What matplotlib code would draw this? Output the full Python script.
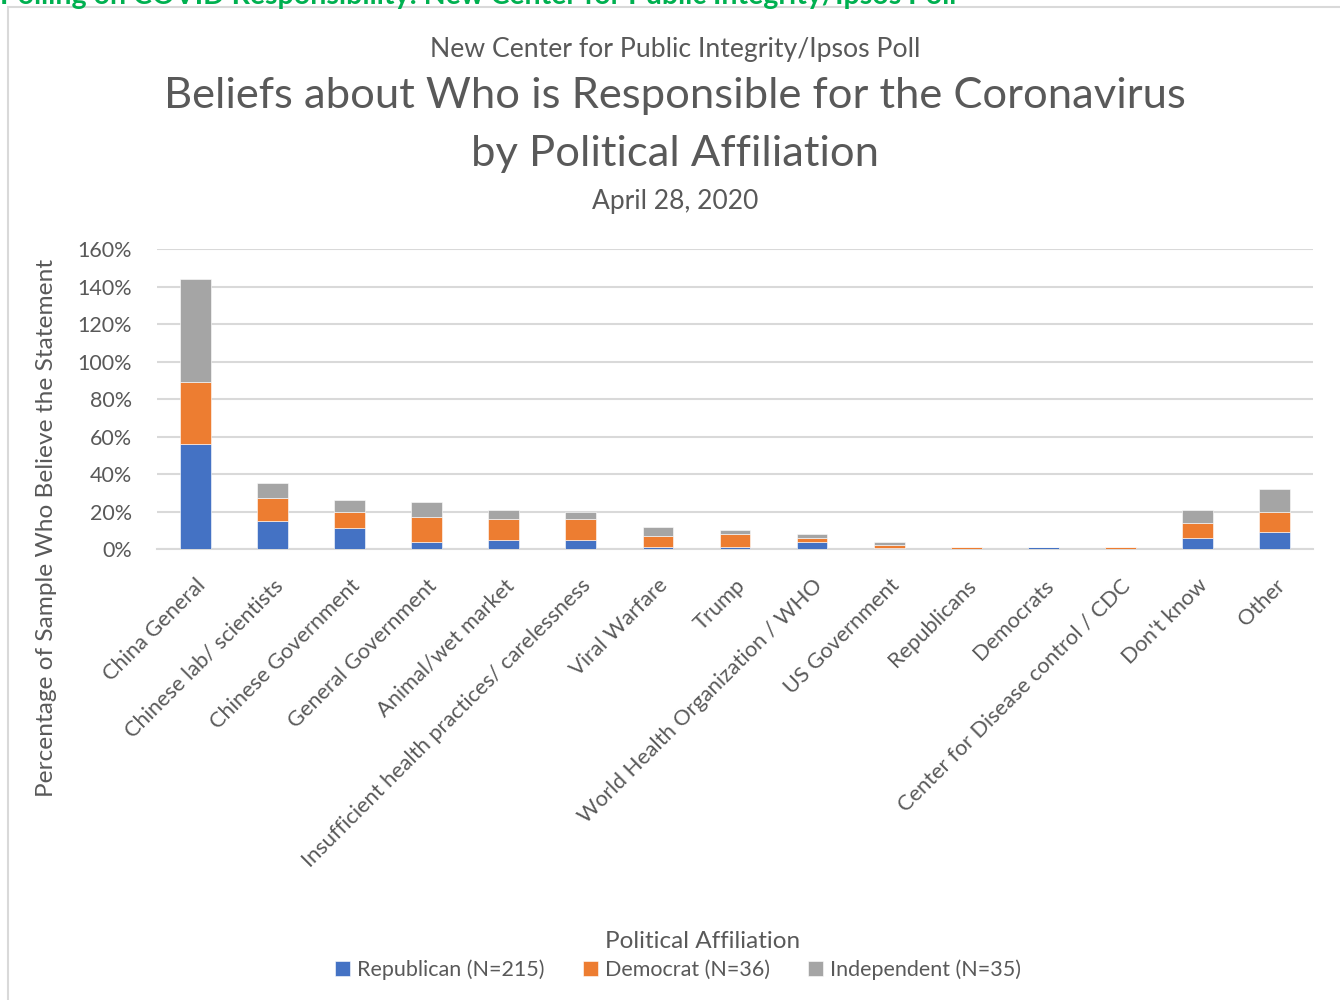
import numpy as np
import matplotlib.pyplot as plt
from matplotlib.patches import Rectangle
from matplotlib.ticker import PercentFormatter

plt.rcParams["font.family"] = ["Lato", "DejaVu Sans"]

categories = [
    "China General", "Chinese lab/ scientists", "Chinese Government",
    "General Government", "Animal/wet market",
    "Insufficient health practices/ carelessness", "Viral Warfare", "Trump",
    "World Health Organization / WHO", "US Government", "Republicans",
    "Democrats", "Center for Disease control / CDC", "Don't know", "Other",
]
republican = [56, 15, 11, 4, 5, 5, 1, 1, 4, 0.5, 0, 1, 0, 6, 9]
democrat = [33, 12, 9, 13, 11, 11, 6, 7, 2, 1.5, 1, 0, 1, 8, 11]
independent = [55, 8, 6, 8, 5, 4, 5, 2, 2, 2, 0, 0, 0, 7, 12]
series_names = ["Republican (N=215)", "Democrat (N=36)", "Independent (N=35)"]
colors = ["#4472c4", "#ed7d31", "#a5a5a5"]
text_color = "#595959"

fig = plt.figure(figsize=(13.4, 10), dpi=100)
ax = fig.add_axes([157 / 1340, 1 - 549 / 1000, (1313 - 157) / 1340, 300 / 1000])

x = np.arange(len(categories))
bottom = np.zeros(len(categories))
for vals, name, c in zip([republican, democrat, independent], series_names, colors):
    vals = np.array(vals, dtype=float)
    ax.bar(x, vals, 0.4, bottom=bottom, color=c, label=name,
           edgecolor="white", linewidth=0.4, zorder=3)
    bottom += vals

ax.set_ylim(0, 160)
ax.set_yticks(np.arange(0, 161, 20))
ax.yaxis.set_major_formatter(PercentFormatter(decimals=0))
ax.set_xlim(-0.5, len(categories) - 0.5)
ax.grid(axis="y", color="#d9d9d9", linewidth=1.5, zorder=0)
for s in ["top", "right", "left"]:
    ax.spines[s].set_visible(False)
ax.spines["bottom"].set_color("#d9d9d9")
ax.spines["bottom"].set_linewidth(1.5)
ax.tick_params(axis="y", length=0, labelsize=15.5, colors=text_color, pad=18)
ax.tick_params(axis="x", length=0, labelsize=15.7, colors=text_color, pad=19)
ax.set_xticks(x)
ax.set_xticklabels(categories, rotation=45, ha="right", rotation_mode="anchor")

# titles
fig.text(0.504, 1 - 49 / 1000, "New Center for Public Integrity/Ipsos Poll",
         ha="center", va="center", fontsize=19.2, color=text_color)
fig.text(0.504, 1 - 96 / 1000, "Beliefs about Who is Responsible for the Coronavirus",
         ha="center", va="center", fontsize=31.3, color=text_color)
fig.text(0.504, 1 - 154 / 1000, "by Political Affiliation",
         ha="center", va="center", fontsize=31.3, color=text_color)
fig.text(0.504, 1 - 201 / 1000, "April 28, 2020",
         ha="center", va="center", fontsize=19, color=text_color)
fig.text(47 / 1340, 1 - 528 / 1000, "Percentage of Sample Who Believe the Statement",
         ha="center", va="center", rotation=90, fontsize=17.6, color=text_color)

# header cut off at top
fig.text(0, 1.004, "Polling on COVID Responsibility: New Center for Public Integrity/Ipsos Poll",
         ha="left", va="center", fontsize=20.5, fontweight="bold", color="#00b050")

# frame
fig.add_artist(Rectangle((8 / 1340, -0.01), 1.2, 1 - 7 / 1000 + 0.01,
                         transform=fig.transFigure, fill=False,
                         edgecolor="#d9d9d9", linewidth=1.5))

fig.text(703 / 1340, 1 - 941 / 1000, "Political Affiliation",
         ha="center", va="center", fontsize=17.5, color=text_color)
fig.legend(loc="center", bbox_to_anchor=(678 / 1340, 1 - 970 / 1000),
           ncol=3, frameon=False, fontsize=15.5, labelcolor=text_color,
           handlelength=0.7, handleheight=0.7, handletextpad=0.3,
           columnspacing=1.8)

fig.savefig("out.png", dpi=100)
